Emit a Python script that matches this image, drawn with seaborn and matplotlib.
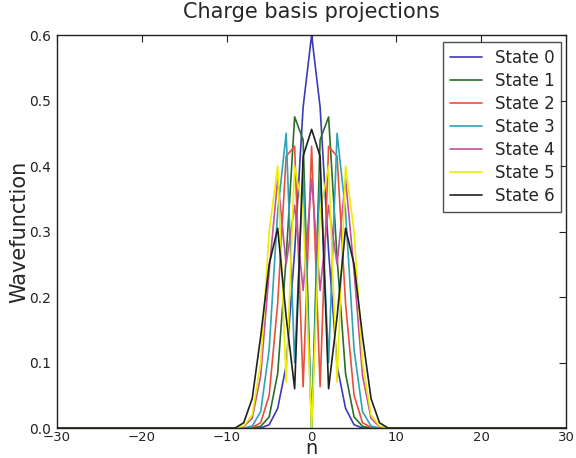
import numpy as np
import pandas as pd
import seaborn as sns
import matplotlib
matplotlib.use("Agg")
import matplotlib.pyplot as plt

# charge states shown on the x axis
n_all = np.arange(-30, 31)
n_core = np.arange(-8, 9)

# |psi(n)| for n = -8 .. 8 (zero elsewhere)
state0 = [0, 0, 0, 0.005, 0.03, 0.095, 0.27, 0.49, 0.6, 0.49, 0.27, 0.095, 0.03, 0.005, 0, 0, 0]
state1 = [0, 0, 0.0025, 0.017, 0.083, 0.26, 0.475, 0.44, 0, 0.44, 0.475, 0.26, 0.083, 0.017, 0.0025, 0, 0]
state2 = [0, 0.001, 0.008, 0.05, 0.19, 0.415, 0.43, 0.063, 0.43, 0.063, 0.43, 0.415, 0.19, 0.05, 0.008, 0.001, 0]
state3 = [0, 0.003, 0.025, 0.12, 0.33, 0.45, 0.10, 0.39, 0, 0.39, 0.10, 0.45, 0.33, 0.12, 0.025, 0.003, 0]
state4 = [0.002, 0.015, 0.08, 0.24, 0.38, 0.25, 0.34, 0.21, 0.38, 0.21, 0.34, 0.25, 0.38, 0.24, 0.08, 0.015, 0.002]
state5 = [0.003, 0.02, 0.10, 0.30, 0.40, 0.07, 0.40, 0.33, 0, 0.33, 0.40, 0.07, 0.40, 0.30, 0.10, 0.02, 0.003]
state6 = [0.008, 0.045, 0.14, 0.25, 0.305, 0.17, 0.06, 0.415, 0.456, 0.415, 0.06, 0.17, 0.305, 0.25, 0.14, 0.045, 0.008]

states = [state0, state1, state2, state3, state4, state5, state6]
labels = ["State %d" % i for i in range(7)]
colors = ["#3b3bb5", "#2a6e2a", "#e8503a", "#2fa3b5", "#c2509e", "#eded00", "#202020"]

rows = []
for lab, vals in zip(labels, states):
    full = np.zeros(len(n_all))
    full[np.isin(n_all, n_core)] = vals
    rows.append(pd.DataFrame({"n": n_all, "psi": full, "state": lab}))
df = pd.concat(rows, ignore_index=True)

sns.set_style("white")
plt.rcParams["font.family"] = ["DejaVu Sans"]
plt.rcParams["xtick.direction"] = "in"
plt.rcParams["ytick.direction"] = "in"

fig = plt.figure(figsize=(5.76, 4.58), dpi=100)
ax = fig.add_axes([0.099, 0.0655, 0.884, 0.858])

sns.lineplot(data=df, x="n", y="psi", hue="state", hue_order=labels,
             palette=colors, linewidth=1.2, ax=ax, sort=False)

ax.set_xlim(-30, 30)
ax.set_ylim(0, 0.6)
ax.set_xticks([-30, -20, -10, 0, 10, 20, 30])
ax.set_yticks([0.0, 0.1, 0.2, 0.3, 0.4, 0.5, 0.6])
ax.set_yticklabels(["0.0", "0.1", "0.2", "0.3", "0.4", "0.5", "0.6"])
ax.tick_params(top=True, right=True, length=5, width=0.8, labelsize=10, colors="#222222")
ax.tick_params(axis="x", pad=2, labelsize=9.5)
ax.tick_params(axis="y", pad=4)
for s in ax.spines.values():
    s.set_color("#222222")
    s.set_linewidth(1.0)

ax.set_title("Charge basis projections", fontsize=15, pad=12)
ax.set_xlabel("n", fontsize=14, va="baseline")
ax.xaxis.set_label_coords(0.5, -0.067)
ax.set_ylabel("Wavefunction", fontsize=15, labelpad=0)

leg = ax.legend(loc="upper right", fontsize=12, frameon=True, fancybox=False,
                handlelength=1.9, borderpad=0.4, labelspacing=0.3,
                borderaxespad=0.2, bbox_to_anchor=(0.997, 0.99))
leg.get_frame().set_edgecolor("#222222")
leg.get_frame().set_linewidth(1.0)
leg.set_title(None)

fig.savefig("out.png", dpi=100)
